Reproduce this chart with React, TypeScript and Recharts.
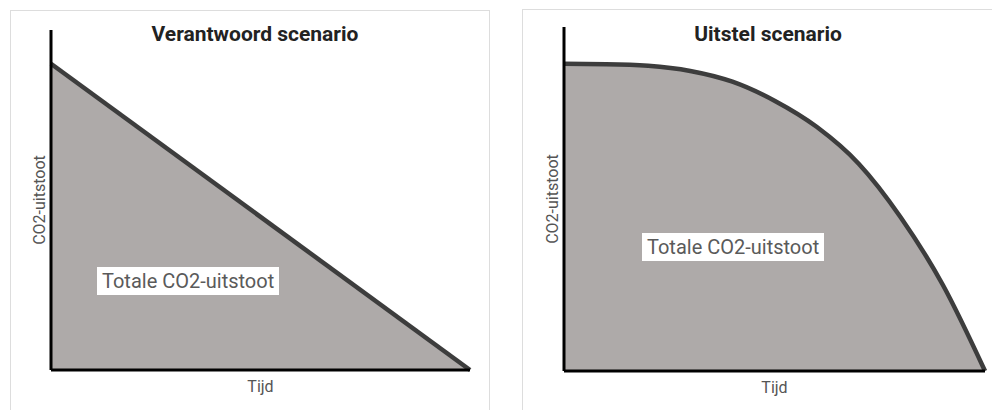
import { AreaChart, Area, XAxis, YAxis } from 'recharts';

// Verantwoord scenario: lineaire daling
const verantwoordTijd = [0, 10];
const verantwoordUitstoot = [100, 0];

// Uitstel scenario: eerst vlak, daarna steil omlaag
const uitstelTijd = [0, 1, 2, 3, 4, 5, 6, 7, 8, 9, 10];
const uitstelUitstoot = [100, 99.9, 99.4, 97.7, 94.2, 88, 79.5, 67.5, 50, 28, 0];

const FONT = 'Roboto, "Noto Sans", sans-serif';
const FILL = '#aeaaa9';
const LINE = '#3d3d3d';

interface PanelProps {
    title: string;
    tijd: number[];
    uitstoot: number[];
    curve: 'linear' | 'monotone';
    left: number;
    margin: { top: number; right: number; bottom: number; left: number };
    yMax: number;
    titleX: number;
    box: { x: number; y: number };
}

function Panel({ title, tijd, uitstoot, curve, left, margin, yMax, titleX, box }: PanelProps) {
    const data = tijd.map((t, i) => ({ t, v: uitstoot[i] }));
    return (
        <div style={{ position: 'absolute', left, top: 0, width: 492, height: 410 }}>
            <div style={{
                position: 'absolute', left: titleX - 150, top: 21, width: 300, textAlign: 'center',
                fontFamily: FONT, fontWeight: 700, fontSize: 21, color: '#222', lineHeight: '26px',
            }}>{title}</div>
            <AreaChart width={492} height={410} data={data} margin={margin}>
                <Area type={curve} dataKey="v" fill={FILL} fillOpacity={1} stroke={LINE} strokeWidth={4.5}
                    isAnimationActive={false} dot={false} activeDot={false} />
                <XAxis
                    type="number" dataKey="t" domain={[0, 10]} height={1} tick={false} tickLine={false}
                    axisLine={{ stroke: '#000', strokeWidth: 3 }}
                    label={(p: any) => (
                        <text x={p.viewBox.x + p.viewBox.width / 2} y={p.viewBox.y + 22} textAnchor="middle"
                            fontFamily={FONT} fontSize={16} fill="#555">Tijd</text>
                    )}
                />
                <YAxis
                    type="number" domain={[0, yMax]} width={1} tick={false} tickLine={false}
                    axisLine={{ stroke: '#000', strokeWidth: 3 }}
                    label={(p: any) => {
                        const cx = p.viewBox.x + p.viewBox.width - 12;
                        const cy = p.viewBox.y + p.viewBox.height / 2;
                        return (
                            <text x={cx} y={cy} textAnchor="middle" dominantBaseline="central"
                                transform={`rotate(-90 ${cx} ${cy})`}
                                fontFamily={FONT} fontSize={16} fill="#555">CO2-uitstoot</text>
                        );
                    }}
                />
            </AreaChart>
            <div style={{
                position: 'absolute', left: box.x, top: box.y, background: '#fff', padding: '0 5px',
                fontFamily: FONT, fontSize: 20, color: '#5a5a5a', lineHeight: '28px',
            }}>Totale CO2-uitstoot</div>
        </div>
    );
}

export default function App() {
    return (
        <div style={{ position: 'fixed', left: 0, top: 0, width: 992, height: 410, background: '#fff', overflow: 'hidden' }}>
            <div style={{ position: 'absolute', left: 10, top: 10, width: 478, height: 420, border: '1px solid #ddd' }} />
            <div style={{ position: 'absolute', left: 522, top: 9, width: 500, height: 420, border: '1px solid #ddd' }} />
            <Panel
                title="Verantwoord scenario"
                tijd={verantwoordTijd}
                uitstoot={verantwoordUitstoot}
                curve="linear"
                left={0}
                margin={{ top: 30, right: 22, bottom: 39, left: 50 }}
                yMax={111}
                titleX={255}
                box={{ x: 97, y: 267 }}
            />
            <Panel
                title="Uitstel scenario"
                tijd={uitstelTijd}
                uitstoot={uitstelUitstoot}
                curve="monotone"
                left={500}
                margin={{ top: 27, right: 7, bottom: 38, left: 63 }}
                yMax={112}
                titleX={268}
                box={{ x: 142, y: 233 }}
            />
        </div>
    );
}
